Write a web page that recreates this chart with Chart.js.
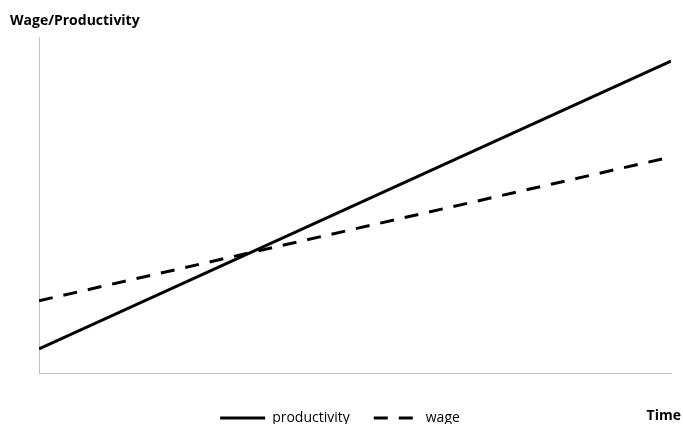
<!DOCTYPE html>
<html>
<head>
<meta charset="utf-8">
<script src="https://cdn.jsdelivr.net/npm/chart.js@4/dist/chart.umd.min.js"></script>
<style>
  html, body { margin: 0; padding: 0; background: #fff; }
  #wrap { position: relative; width: 683px; height: 424px; }
</style>
</head>
<body>
<div id="wrap"><canvas id="chart" width="683" height="424"></canvas></div>
<script>
// start / end of the time span
const timePoints = [0, 10];
const productivity = [7.2, 92.8];
const wage = [21.5, 64.3];

const yTitle = 'Wage/Productivity';
const xTitle = 'Time';

const toPoints = (ys) => ys.map((y, i) => ({ x: timePoints[i], y: y }));

// corner labels drawn on the canvas
const cornerLabels = {
    id: 'cornerLabels',
    afterDraw(chart) {
        const ctx = chart.ctx;
        ctx.save();
        ctx.fillStyle = '#000';
        ctx.font = "bold 14px 'Open Sans', sans-serif";
        ctx.textBaseline = 'middle';
        ctx.textAlign = 'left';
        ctx.fillText(yTitle, 10, 21);
        ctx.textAlign = 'right';
        ctx.fillText(xTitle, 681, 416);
        ctx.restore();
    }
};

const ctx = document.getElementById('chart').getContext('2d');
new Chart(ctx, {
    type: 'line',
    data: {
        datasets: [{
            label: 'productivity',
            data: toPoints(productivity),
            borderColor: '#000',
            borderWidth: 3,
            pointRadius: 0,
            fill: false
        }, {
            label: 'wage',
            data: toPoints(wage),
            borderColor: '#000',
            borderWidth: 3,
            borderDash: [14, 11],
            pointRadius: 0,
            fill: false
        }]
    },
    options: {
        responsive: false,
        animation: false,
        // legend is centred on the full width, so the plot margins come from the axes
        layout: { padding: { left: 0, right: 3, top: 37, bottom: -11 } },
        scales: {
            x: {
                type: 'linear',
                min: timePoints[0],
                max: timePoints[1],
                grid: { display: false },
                border: { color: '#bfbfbf', width: 1 },
                ticks: { display: false },
                afterFit(scale) { scale.height = scale.height + 6; }
            },
            y: {
                min: 0,
                max: 100,
                grid: { display: false },
                border: { color: '#bfbfbf', width: 1 },
                ticks: { display: false },
                afterFit(scale) { scale.width = 39; }
            },
            yRight: {
                position: 'right',
                min: 0,
                max: 100,
                grid: { display: false },
                border: { display: false },
                ticks: { display: false },
                afterFit(scale) { scale.width = 9; }
            }
        },
        plugins: {
            legend: {
                position: 'bottom',
                labels: {
                    usePointStyle: true,
                    pointStyle: 'line',
                    pointStyleWidth: 45,
                    boxHeight: 14,
                    padding: 24,
                    color: '#000',
                    font: { family: "'Open Sans', sans-serif", size: 14 },
                    generateLabels(chart) {
                        const items = Chart.defaults.plugins.legend.labels.generateLabels(chart);
                        items.forEach((item) => {
                            const ds = chart.data.datasets[item.datasetIndex];
                            item.lineDash = ds.borderDash || [];
                            item.lineWidth = ds.borderWidth;
                            item.strokeStyle = ds.borderColor;
                        });
                        return items;
                    }
                }
            },
            tooltip: { enabled: false }
        }
    },
    plugins: [cornerLabels]
});
</script>
</body>
</html>
